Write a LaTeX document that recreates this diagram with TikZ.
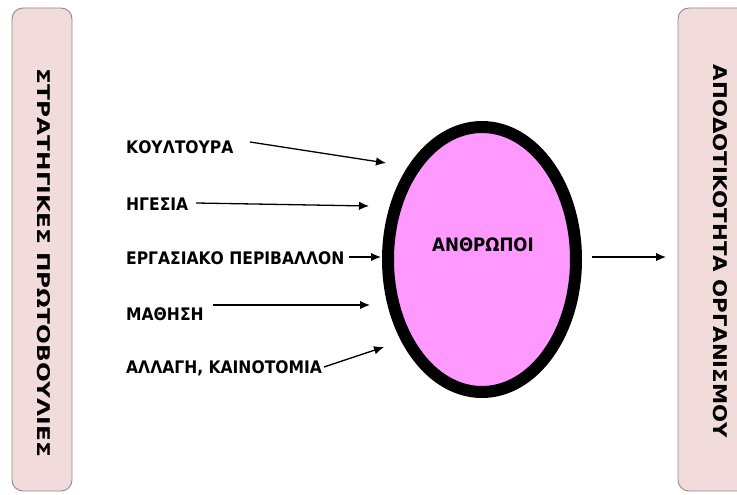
\documentclass[tikz,border=0pt]{standalone}
\usepackage{fontspec}
\setmainfont{Liberation Sans}
\newfontfamily\lsbold{DejaVu Sans Condensed Bold}
\usetikzlibrary{arrows.meta,shapes.geometric}
\definecolor{boxpink}{HTML}{F2DCDB}
\definecolor{boxline}{HTML}{8C8C8C}
\definecolor{people}{HTML}{FF99FF}
\begin{document}
\begin{tikzpicture}[x=1pt,y=-1pt,
  sidebox/.style={draw=boxline,line width=0.9pt,fill=boxpink,rounded corners=11pt},
  lbl/.style={font=\lsbold\fontsize{17.3}{18}\selectfont,inner sep=0pt,anchor=base west},
  arr/.style={line width=1.3pt,-{Latex[length=10pt,width=8.5pt]}}]
\useasboundingbox (0,0) rectangle (737,495);
\fill[white] (0,0) rectangle (737,495);
% side boxes
\draw[sidebox] (12,8) rectangle (72,491);
\draw[sidebox] (678,8) rectangle (760,491);
\node[inner sep=0pt,rotate=-90] (left) at (44,263)
  {\resizebox{388pt}{13pt}{\lsbold ΣΤΡΑΤΗΓΙΚΕΣ ΠΡΩΤΟΒΟΥΛΙΕΣ}};
\node[inner sep=0pt,rotate=-90] (right) at (720,251.5)
  {\resizebox{373pt}{14pt}{\lsbold ΑΠΟΔΟΤΙΚΟΤΗΤΑ ΟΡΓΑΝΙΣΜΟΥ}};
% ellipse
\node[draw=black,line width=12pt,fill=people,ellipse,minimum width=188pt,minimum height=265pt,inner sep=0pt] (E) at (482,259.5) {};
\node[font=\lsbold\fontsize{18.5}{19}\selectfont,inner sep=0pt] (ppl) at (483,245) {ΑΝΘΡΩΠΟΙ};
% labels
\node[lbl] (k1) at (126,153.5) {ΚΟΥΛΤΟΥΡΑ};
\node[lbl] (k2) at (126,210) {ΗΓΕΣΙΑ};
\node[lbl] (k3) at (126,264.5) {ΕΡΓΑΣΙΑΚΟ ΠΕΡΙΒΑΛΛΟΝ};
\node[lbl] (k4) at (126,320) {ΜΑΘΗΣΗ};
\node[lbl] (k5) at (126,373) {ΑΛΛΑΓΗ, ΚΑΙΝΟΤΟΜΙΑ};
% arrow endpoints
\coordinate (s1) at (250,142); \coordinate (e1) at (386,163);
\coordinate (s2) at (196,203); \coordinate (e2) at (369,206);
\coordinate (s3) at (349,257); \coordinate (e3) at (381,257);
\coordinate (s4) at (213,305); \coordinate (e4) at (370,305);
\coordinate (s5) at (324,367); \coordinate (e5) at (384,347);
\coordinate (s6) at (592,257); \coordinate (e6) at (666,257);
\draw[arr] (s1) -- (e1);
\draw[arr] (s2) -- (e2);
\draw[arr] (s3) -- (e3);
\draw[arr] (s4) -- (e4);
\draw[arr] (s5) -- (e5);
\draw[arr] (s6) -- (e6);
\end{tikzpicture}
\end{document}
